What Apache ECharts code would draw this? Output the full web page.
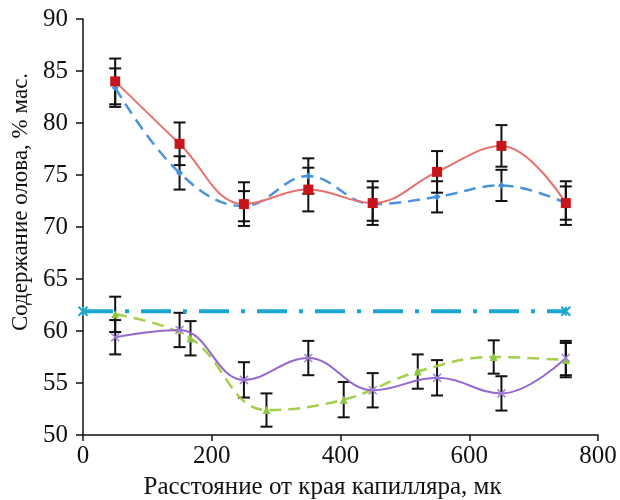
<!DOCTYPE html>
<html>
<head>
<meta charset="utf-8">
<script src="https://cdn.jsdelivr.net/npm/echarts@6/dist/echarts.min.js"></script>
<style>
  html, body { margin: 0; padding: 0; background: #fff; }
  #chart { width: 620px; height: 500px; }
</style>
</head>
<body>
<div id="chart"></div>
<script>
// x positions (мк)
const xMain = [50, 150, 250, 350, 450, 550, 650, 750]
const xGreen = [50, 167, 285, 405, 520, 638, 750]
const xCyan = [0, 750]

// values, % мас.
const redVals = [84.0, 78.0, 72.2, 73.6, 72.3, 75.3, 77.8, 72.3]
const redErr = [2.2, 2.05, 2.1, 2.1, 2.1, 2.0, 2.0, 2.1]
const blueVals = [83.4, 75.2, 72.0, 74.9, 72.2, 72.9, 74.0, 72.3]
const blueErr = [1.85, 1.6, 1.45, 1.7, 1.6, 1.5, 1.5, 1.6]
const purpleVals = [59.4, 60.1, 55.3, 57.4, 54.3, 55.5, 54.0, 57.4]
const purpleErr = [1.65, 1.65, 1.7, 1.65, 1.65, 1.7, 1.65, 1.65]
const greenVals = [61.6, 59.3, 52.4, 53.4, 56.1, 57.5, 57.2]
const greenErr = [1.7, 1.65, 1.6, 1.7, 1.65, 1.6, 1.65]
const cyanVals = [61.9, 61.9]

const xTicks = [0, 200, 400, 600, 800]
const yTicks = [50, 55, 60, 65, 70, 75, 80, 85, 90]

const zip = (xs, ys) => xs.map((x, i) => [x, ys[i]])
const errData = (xs, ys, es) => xs.map((x, i) => [x, ys[i] - es[i], ys[i] + es[i]])

function renderErr(params, api) {
  const x = api.value(0)
  const top = api.coord([x, api.value(2)])
  const bot = api.coord([x, api.value(1)])
  const w = 6
  const st = { stroke: '#111', lineWidth: 2 }
  return {
    type: 'group',
    children: [
      { type: 'line', shape: { x1: top[0], y1: top[1], x2: bot[0], y2: bot[1] }, style: st },
      { type: 'line', shape: { x1: top[0] - w, y1: top[1], x2: top[0] + w, y2: top[1] }, style: st },
      { type: 'line', shape: { x1: bot[0] - w, y1: bot[1], x2: bot[0] + w, y2: bot[1] }, style: st }
    ]
  }
}

function errSeries(xs, ys, es) {
  return {
    type: 'custom',
    renderItem: renderErr,
    data: errData(xs, ys, es),
    encode: { x: 0, y: [1, 2] },
    z: 1,
    silent: true
  }
}

const font = 'Liberation Serif'
const chart = echarts.init(document.getElementById('chart'))

chart.setOption({
  animation: false,
  textStyle: { fontFamily: font },
  grid: { left: 83, right: 22, top: 19, bottom: 65, outerBoundsMode: 'none' },
  xAxis: {
    type: 'value',
    min: xTicks[0],
    max: xTicks[xTicks.length - 1],
    interval: 200,
    name: 'Расстояние от края капилляра, мк',
    nameLocation: 'middle',
    nameGap: 40,
    nameTextStyle: { fontFamily: font, fontSize: 25, color: '#111', padding: [0, 36, 0, 0] },
    axisLine: { lineStyle: { color: '#111', width: 1.5 } },
    axisTick: { inside: false, length: 6, lineStyle: { color: '#111', width: 1.5 } },
    axisLabel: { fontFamily: font, fontSize: 25, color: '#111', margin: 9 },
    splitLine: { show: false }
  },
  yAxis: {
    type: 'value',
    min: yTicks[0],
    max: yTicks[yTicks.length - 1],
    interval: 5,
    name: 'Содержание олова, % мас.',
    nameLocation: 'middle',
    nameGap: 51,
    nameTextStyle: { fontFamily: font, fontSize: 23, color: '#111', padding: [0, 0, 0, 50] },
    axisLine: { show: true, lineStyle: { color: '#111', width: 1.5 } },
    axisTick: { show: true, inside: false, length: 7, lineStyle: { color: '#111', width: 1.5 } },
    axisLabel: { fontFamily: font, fontSize: 25, color: '#111', margin: 15 },
    splitLine: { show: false }
  },
  series: [
    errSeries(xMain, redVals, redErr),
    errSeries(xMain, blueVals, blueErr),
    errSeries(xMain, purpleVals, purpleErr),
    errSeries(xGreen, greenVals, greenErr),
    {
      name: 'cyan',
      type: 'line',
      data: zip(xCyan, cyanVals),
      symbol: 'path://M0,0L10,10M10,0L0,10M5,0L5,10',
      symbolSize: 9,
      itemStyle: { color: '#1BA6D2', borderColor: '#1BA6D2', borderWidth: 2 },
      lineStyle: { color: '#1BA6D2', width: 4, type: [30, 12, 4, 12] },
      z: 2
    },
    {
      name: 'blue',
      type: 'line',
      data: zip(xMain, blueVals),
      smooth: 0.4,
      symbol: 'diamond',
      symbolSize: 7,
      itemStyle: { color: '#3F8FDB' },
      lineStyle: { color: '#4C93DC', width: 2.5, type: [12, 7] },
      z: 3
    },
    {
      name: 'red',
      type: 'line',
      data: zip(xMain, redVals),
      smooth: 0.4,
      symbol: 'rect',
      symbolSize: 10,
      itemStyle: { color: '#C8151B' },
      lineStyle: { color: '#E8706C', width: 2 },
      z: 4
    },
    {
      name: 'green',
      type: 'line',
      data: zip(xGreen, greenVals),
      smooth: 0.4,
      symbol: 'triangle',
      symbolSize: 8,
      itemStyle: { color: '#8DC63F' },
      lineStyle: { color: '#A5CF4C', width: 2.5, type: [12, 7] },
      z: 3
    },
    {
      name: 'purple',
      type: 'line',
      data: zip(xMain, purpleVals),
      smooth: 0.4,
      symbol: 'path://M0,0L10,10M10,0L0,10',
      symbolSize: 8,
      itemStyle: { color: '#B79BE0', borderColor: '#A27FD6', borderWidth: 1.5 },
      lineStyle: { color: '#9468CF', width: 2 },
      z: 4
    }
  ]
})
</script>
</body>
</html>
